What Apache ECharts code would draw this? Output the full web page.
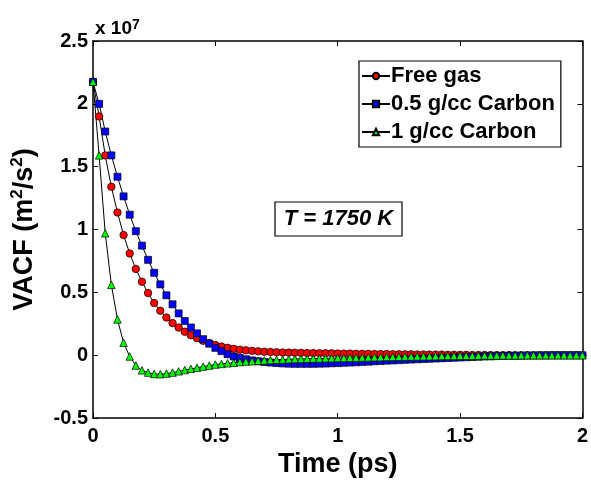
<!DOCTYPE html>
<html><head><meta charset="utf-8">
<script src="https://cdn.jsdelivr.net/npm/echarts@6/dist/echarts.min.js"></script>
<style>html,body{margin:0;padding:0;background:#fff;overflow:hidden;width:591px;height:483px}#c{position:absolute;left:0;top:0;width:591px;height:483px}</style>
</head><body><div id="c"></div>
<script>
// time step (ps) between samples, 81 samples from 0 to 2 ps
const timeStep = 0.025;
// VACF values in units of 1e7 m^2/s^2
const freeGas = [2.175,1.90,1.59,1.34,1.136,0.956,0.81,0.687,0.585,0.495,0.415,0.354,0.30,0.256,0.22,0.187,0.159,0.136,0.115,0.097,0.082,0.069,0.059,0.051,0.044,
 0.039,0.035,0.031,0.028,0.026,0.024,0.022,0.021,0.020,0.019,0.018,0.017,0.016,0.016,0.015,0.014,0.013,0.013,0.012,0.011,
 0.011,0.010,0.009,0.009,0.008,0.008,0.007,0.007,0.006,0.006,0.005,0.005,0.005,0.004,0.004,0.003,0.003,0.002,0.002,0.002,
 0.001,0.001,0.001,0.001,0,0,0,0,0,0,0,0,0,0,0,0];
const carbon05 = [2.175,2.0,1.78,1.59,1.42,1.264,1.118,0.987,0.872,0.759,0.656,0.564,0.477,0.405,0.333,0.272,0.221,0.174,0.128,0.092,0.059,0.033,0.008,-0.010,-0.022,-0.032,-0.041,-0.048,-0.054,
 -0.058,-0.062,-0.065,-0.067,-0.068,-0.068,-0.068,-0.068,-0.067,-0.066,-0.064,-0.062,-0.060,-0.058,-0.056,-0.053,-0.051,-0.048,-0.046,-0.043,
 -0.041,-0.039,-0.036,-0.034,-0.032,-0.030,-0.028,-0.026,-0.024,-0.022,-0.020,-0.018,-0.016,-0.014,-0.012,-0.010,-0.009,-0.007,-0.006,-0.005,
 -0.004,-0.003,-0.002,-0.002,-0.001,-0.001,0,0,0,0,0,0];
const carbon1 = [2.175,1.59,0.97,0.56,0.285,0.10,-0.01,-0.082,-0.12,-0.138,-0.149,-0.151,-0.146,-0.138,-0.128,-0.118,-0.108,-0.10,-0.09,-0.082,-0.074,-0.069,-0.064,-0.059,-0.054,
 -0.050,-0.047,-0.044,-0.041,-0.038,-0.036,-0.034,-0.032,-0.030,-0.029,-0.028,-0.026,-0.025,-0.024,-0.023,-0.022,-0.021,-0.020,-0.019,-0.018,
 -0.017,-0.016,-0.015,-0.014,-0.013,-0.012,-0.011,-0.010,-0.009,-0.008,-0.008,-0.007,-0.006,-0.005,-0.005,-0.004,-0.004,-0.003,-0.003,-0.002,
 -0.002,-0.002,-0.001,-0.001,-0.001,0,0,0,0,0,0,0,0,0,0,0];
const seriesNames = ['Free gas','0.5 g/cc Carbon','1 g/cc Carbon'];
const xTicks = [0,0.5,1,1.5,2];
const yTicks = [-0.5,0,0.5,1,1.5,2,2.5];

const FONT = '"Liberation Sans", Arial, sans-serif';
function pairs(arr){ return arr.map((v,i)=>[+(i*timeStep).toFixed(3), v]); }
function fmt(v){ return String(v); }

const chart = echarts.init(document.getElementById('c'), null, {renderer:'canvas', width:591, height:483});
const axisLine = {show:true, onZero:false, lineStyle:{color:'#000', width:1.5}};
const tick = {show:true, inside:true, length:5, lineStyle:{color:'#000', width:1}};
const mk = (name, data, symbol, color, size) => ({
  name, type:'line', data:pairs(data), symbol, symbolSize:size, showSymbol:true,
  lineStyle:{color:'#000', width:1}, itemStyle:{color, borderColor:'#000', borderWidth:0.7},
  emphasis:{disabled:true}, animation:false, z:2
});
chart.setOption({
  backgroundColor:'#fff',
  animation:false,
  grid:{left:93, width:490, top:41, height:390, containLabel:false},
  xAxis:[{
    type:'value', min:0, max:2, interval:0.5, position:'bottom',
    axisLine, axisTick:tick, splitLine:{show:false},
    axisLabel:{color:'#000', fontFamily:FONT, fontWeight:'bold', fontSize:20, margin:8, formatter:fmt},
    name:'Time (ps)', nameLocation:'middle', nameGap:29,
    nameTextStyle:{color:'#000', fontFamily:FONT, fontWeight:'bold', fontSize:27}
  },{
    type:'value', min:0, max:2, interval:0.5, position:'top',
    axisLine, axisTick:tick, splitLine:{show:false}, axisLabel:{show:false}
  }],
  yAxis:[{
    type:'value', min:-0.5, max:2.5, interval:0.5, position:'left',
    axisLine, axisTick:tick, splitLine:{show:false},
    axisLabel:{color:'#000', fontFamily:FONT, fontWeight:'bold', fontSize:20, margin:5, formatter:fmt},
    name:'VACF (m{sup|2}/s{sup|2})', nameLocation:'middle', nameGap:52, nameRotate:90,
    nameTextStyle:{color:'#000', fontFamily:FONT, fontWeight:'bold', fontSize:27, lineHeight:32,
      rich:{sup:{fontFamily:FONT, fontWeight:'bold', fontSize:17, lineHeight:32, verticalAlign:'top', padding:[0,0,0,0]}}}
  },{
    type:'value', min:-0.5, max:2.5, interval:0.5, position:'right',
    axisLine, axisTick:tick, splitLine:{show:false}, axisLabel:{show:false}
  }],
  legend:{
    data:seriesNames, orient:'vertical', left:359, top:61,
    itemWidth:28, itemHeight:8, itemGap:6,
    padding:[4,6,4,2], borderColor:'#000', borderWidth:1.2, backgroundColor:'#fff',
    textStyle:{color:'#000', fontFamily:FONT, fontWeight:'bold', fontSize:22, padding:[0,0,0,-4]}
  },
  graphic:[
    {type:'text', left:95, top:18, style:{text:'x 10{s|7}', rich:{s:{fontSize:14, fontFamily:FONT, fontWeight:'bold', verticalAlign:'top', lineHeight:22}}, font:'bold 19px "Liberation Sans", Arial', lineHeight:22, fill:'#000'}},
    {type:'rect', shape:{x:275, y:202, width:127, height:34}, style:{fill:'#fff', stroke:'#000', lineWidth:1.2}, z:10},
    {type:'text', x:338.5, y:219, style:{text:'T = 1750 K', font:'italic bold 22px "Liberation Sans", Arial', fill:'#000', textAlign:'center', textVerticalAlign:'middle'}, z:11}
  ],
  series:[
    mk(seriesNames[0], freeGas, 'circle', '#ff0000', 7.5),
    mk(seriesNames[1], carbon05, 'rect', '#0000ff', 7),
    mk(seriesNames[2], carbon1, 'triangle', '#00ff00', 7.5)
  ]
});
</script></body></html>
